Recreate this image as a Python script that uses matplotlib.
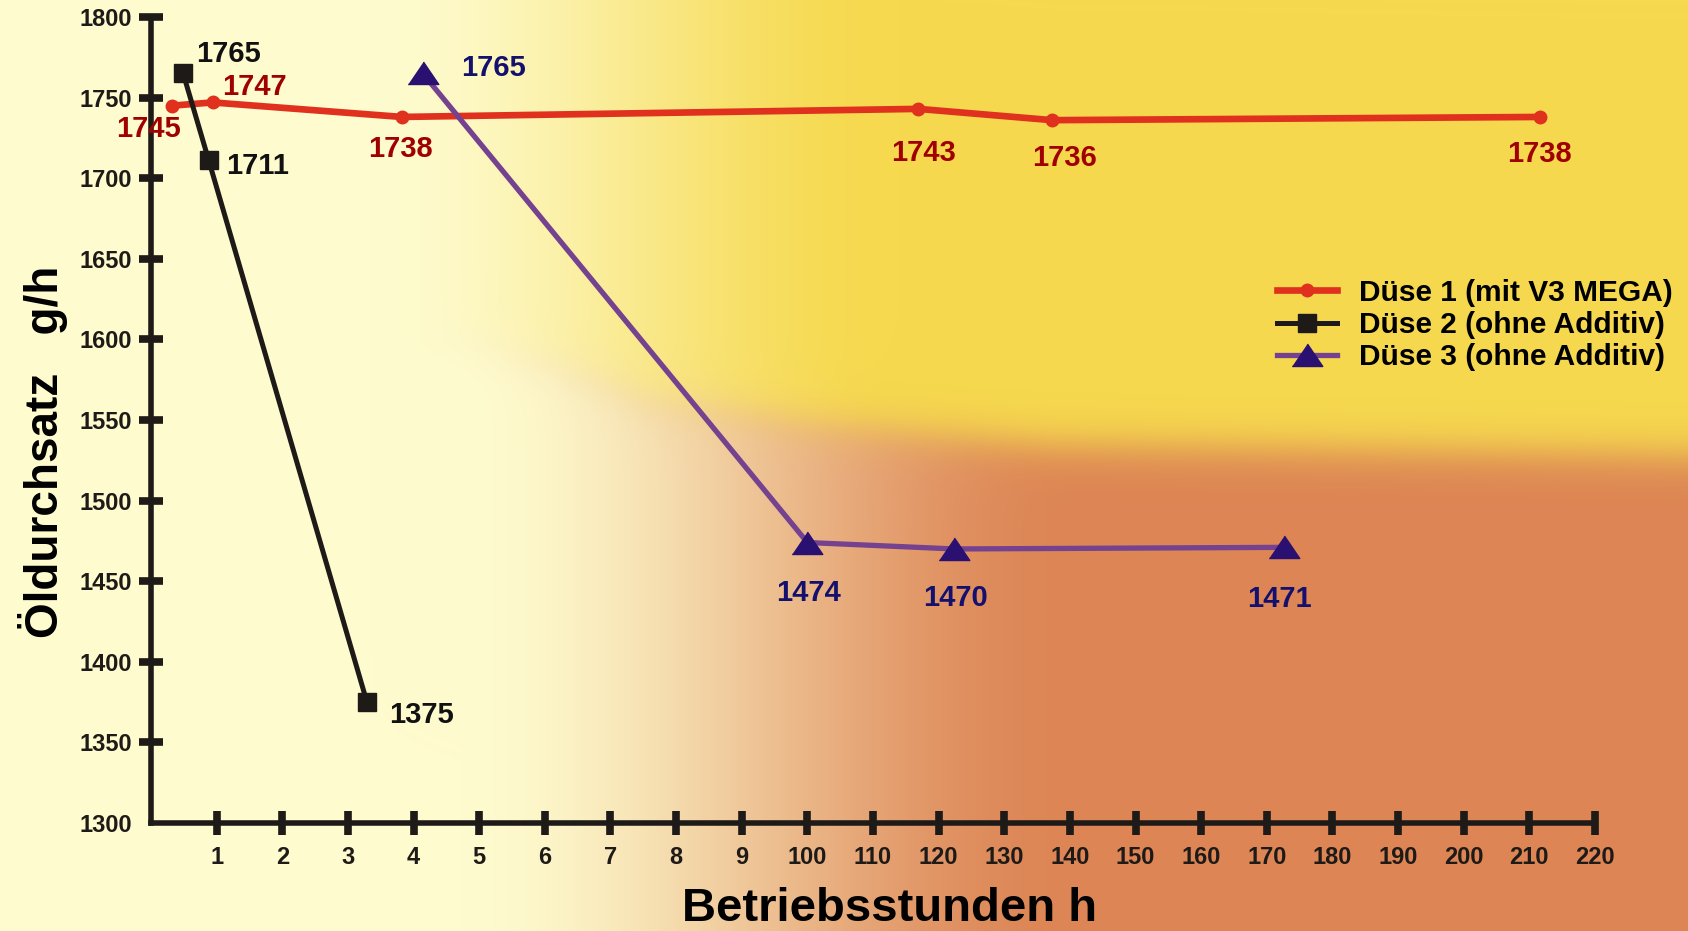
import numpy as np
import matplotlib.pyplot as plt

plt.rcParams['font.family'] = ['Liberation Sans', 'DejaVu Sans']
plt.rcParams['font.weight'] = 'bold'

# x axis is a stretched category axis: 1..9 h, then 100..220 h
hour_labels = ["1", "2", "3", "4", "5", "6", "7", "8", "9",
               "100", "110", "120", "130", "140", "150", "160",
               "170", "180", "190", "200", "210", "220"]
y_ticks = [1300, 1350, 1400, 1450, 1500, 1550, 1600, 1650, 1700, 1750, 1800]

# positions on the tick scale (1 = first tick) and measured throughput g/h
duese1_pos = [0.32, 0.94, 3.82, 11.69, 13.73, 21.16]
duese1_val = [1745, 1747, 1738, 1743, 1736, 1738]
duese2_pos = [0.49, 0.88, 3.29]
duese2_val = [1765, 1711, 1375]
duese3_pos = [4.14, 10.0, 12.24, 17.26]
duese3_val = [1765, 1474, 1470, 1471]

# label offsets in points
duese1_off = [(-17, -17), (30, 11), (-1, -23), (4, -32), (9, -27), (0, -27)]
duese2_off = [(33, 14), (35, -4), (39, -9)]
duese3_off = [(51, 4), (1, -36), (1, -35), (-3, -37)]

W, H = 1688, 931
fig = plt.figure(figsize=(W / 100, H / 100), dpi=100)


# background: pale yellow on the left, yellow (top) / orange (bottom) on the right
def smoothstep(a, b, v):
    t = np.clip((v - a) / (b - a), 0, 1)
    return t * t * (3 - 2 * t)


xx, yy = np.meshgrid(np.arange(W, dtype=float), np.arange(H, dtype=float))
pale = np.array([254, 251, 206]) / 255
yellow = np.array([246, 217, 78]) / 255
orange = np.array([221, 133, 85]) / 255
yb = np.interp(xx, [450, 560, 646, 811, 1057, 1688], [340, 371, 403, 427, 445, 455])
s = 1 / (1 + np.exp(-(yy - yb) / 12.0))
t_top = smoothstep(370, 900, xx)
t_bot = smoothstep(460, 1080, xx)
t = t_top * (1 - s) + t_bot * s
right = yellow[None, None, :] * (1 - s[..., None]) + orange[None, None, :] * s[..., None]
bg = pale[None, None, :] * (1 - t[..., None]) + right * t[..., None]

ax_bg = fig.add_axes([0, 0, 1, 1], zorder=0)
ax_bg.imshow(bg, extent=(0, W, H, 0), aspect='auto')
ax_bg.axis('off')

ax = fig.add_axes([151 / W, (H - 823) / H, (1595 - 151) / W, (823 - 17) / H], zorder=1)
ax.set_facecolor('none')

tri = [(-1, -0.72), (1, -0.72), (0, 0.75)]

ax.plot(duese1_pos, duese1_val, color='#E0301E', lw=4.8, marker='o', ms=9,
        label='Düse 1 (mit V3 MEGA)', zorder=3)
ax.plot(duese2_pos, duese2_val, color='#1E1A18', lw=3.6, marker='s', ms=13,
        label='Düse 2 (ohne Additiv)', zorder=4)
ax.plot(duese3_pos, duese3_val, color='#74428F', lw=3.8, marker=tri, ms=22,
        mfc='#2A1070', mec='#2A1070', label='Düse 3 (ohne Additiv)', zorder=3)

for xs, vs, offs, c in [(duese1_pos, duese1_val, duese1_off, '#A00000'),
                        (duese2_pos, duese2_val, duese2_off, '#111111'),
                        (duese3_pos, duese3_val, duese3_off, '#14106E')]:
    for x, v, o in zip(xs, vs, offs):
        ax.annotate(str(v), (x, v), xytext=o, textcoords='offset points',
                    ha='center', va='center', fontsize=21, fontweight='bold', color=c)

ax.set_xlim(0, 22)
ax.set_ylim(1300, 1800)
ax.set_xticks(range(1, 23))
ax.set_xticklabels(hour_labels)
ax.set_yticks(y_ticks)
ax.tick_params(axis='both', direction='inout', length=17, width=5.5,
               color='#1E1A18', labelsize=17, labelcolor='#1E1A18')
ax.tick_params(axis='x', pad=8)
ax.tick_params(axis='y', pad=5)
ax.yaxis.get_major_ticks()[0].tick1line.set_visible(False)
for lbl in ax.get_xticklabels() + ax.get_yticklabels():
    lbl.set_fontweight('bold')

for side in ['top', 'right']:
    ax.spines[side].set_visible(False)
for side in ['left', 'bottom']:
    ax.spines[side].set_linewidth(4)
    ax.spines[side].set_color('#1E1A18')
    ax.spines[side].set_capstyle('projecting')

fig.text(889 / W, (H - 921) / H, 'Betriebsstunden h', ha='center', va='baseline',
         fontsize=34, fontweight='bold', color='black')
fig.text(43 / W, 1 - 452 / H, 'Öldurchsatz   g/h', ha='center', va='center',
         rotation=90, fontsize=33, fontweight='bold', color='black')

leg = fig.legend(loc='center left', bbox_to_anchor=(1262 / W, 1 - 325 / H),
                 frameon=False, handlelength=2.0, handletextpad=0.75,
                 labelspacing=0.14, borderpad=0, prop={'weight': 'bold', 'size': 21.5})

fig.savefig('out.png', dpi=100)
